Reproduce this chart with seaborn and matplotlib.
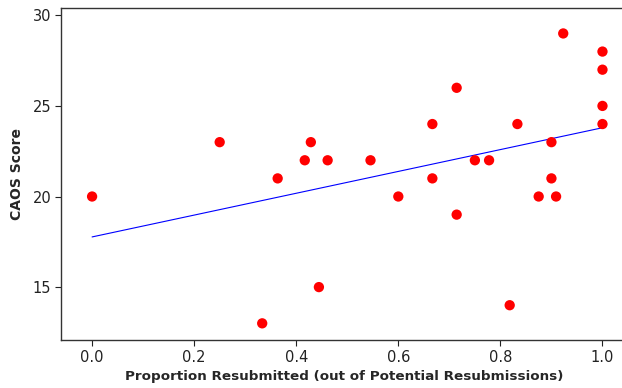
import numpy as np
import pandas as pd
import matplotlib
matplotlib.use("Agg")
import matplotlib.pyplot as plt
import seaborn as sns

# proportion resubmitted vs CAOS score
proportion = [0.0, 0.25, 0.3636, 0.4167, 0.4286, 0.4615, 0.4444, 0.3333,
              0.5455, 0.6, 0.6667, 0.6667, 0.7143, 0.7143, 0.75, 0.7778,
              0.8333, 0.8182, 0.875, 0.9, 0.9, 0.9091, 0.9231,
              1.0, 1.0, 1.0, 1.0]
caos = [20, 23, 21, 22, 23, 22, 15, 13,
        22, 20, 24, 21, 26, 19, 22, 22,
        24, 14, 20, 23, 21, 20, 29,
        28, 27, 25, 24]

x_ticks = [0.0, 0.2, 0.4, 0.6, 0.8, 1.0]
y_ticks = [15, 20, 25, 30]

df = pd.DataFrame({"proportion": proportion, "caos": caos})

sns.set_style("white")
plt.rcParams["font.family"] = ["DejaVu Sans"]

fig = plt.figure(figsize=(6.22, 3.88), dpi=100)
# axes runs past the right edge of the figure, like the cropped original
ax = fig.add_axes([0.098, 0.1237, 0.91, 0.855])
ax.patch.set_edgecolor("none")

sns.regplot(data=df, x="proportion", y="caos", scatter=False, ci=None,
            truncate=True, line_kws={"color": "#0000ff", "lw": 0.8}, ax=ax)
sns.scatterplot(data=df, x="proportion", y="caos", color="#ff0000",
                s=55, edgecolor="none", ax=ax, zorder=3)

ax.set_xlim(-0.061, 1.048)
ax.set_ylim(12.08, 30.39)
ax.set_xticks(x_ticks)
ax.set_xticklabels([f"{t:.1f}" for t in x_ticks])
ax.set_yticks(y_ticks)

ax.set_xlabel("Proportion Resubmitted (out of Potential Resubmissions)",
              fontsize=9.7, fontweight="bold", labelpad=4)
ax.set_ylabel("CAOS Score", fontsize=10, fontweight="bold", labelpad=6)
ax.tick_params(axis="both", labelsize=10.5, direction="out", length=4,
               width=0.8, colors="#222222", bottom=True, left=True, pad=3)

for side in ["left", "bottom", "top"]:
    ax.spines[side].set_color("#333333")
    ax.spines[side].set_linewidth(1.0)
ax.spines["right"].set_visible(False)

fig.savefig("out.png", dpi=100)
